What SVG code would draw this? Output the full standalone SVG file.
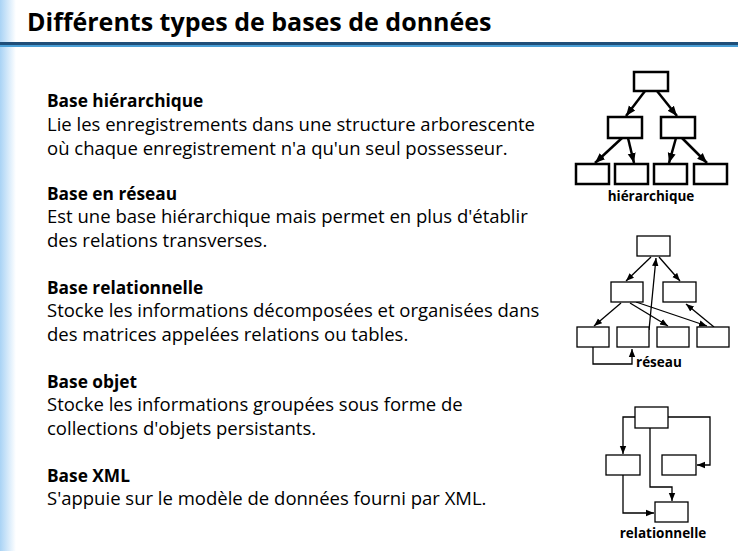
<svg xmlns="http://www.w3.org/2000/svg" width="738" height="551" viewBox="0 0 738 551">
<defs>
<linearGradient id="lg" x1="0" x2="1" y1="0" y2="0"><stop offset="0" stop-color="#a9d3f5"/><stop offset="1" stop-color="#ffffff"/></linearGradient>
<marker id="ah" viewBox="0 0 10 10" refX="10" refY="5" markerWidth="8" markerHeight="8" markerUnits="userSpaceOnUse" orient="auto-start-reverse"><path d="M0,1 L10,5 L0,9 z" fill="#000"/></marker>
<marker id="ah2" viewBox="0 0 10 10" refX="10" refY="5" markerWidth="10" markerHeight="10" markerUnits="userSpaceOnUse" orient="auto-start-reverse"><path d="M0,1 L10,5 L0,9 z" fill="#000"/></marker>
</defs>
<style>
text{font-family:"Open Sans","Liberation Sans",sans-serif;fill:#000}
.t{font-size:25px;font-weight:bold}
.h{font-size:17.3px;font-weight:bold}
.b{font-size:18.5px}
.l{font-size:13.5px;font-weight:bold}
.bx{fill:#fff;stroke:#000;stroke-width:2.5}
.bx2{fill:#fff;stroke:#000;stroke-width:1.3}
.c{fill:none;stroke:#000;stroke-width:2.5;marker-end:url(#ah2)}
.c2{fill:none;stroke:#000;stroke-width:1.3;marker-end:url(#ah)}
</style>
<rect width="738" height="551" fill="#fff"/>
<rect x="0" y="0" width="16" height="551" fill="url(#lg)"/>
<rect x="0" y="42" width="738" height="3" fill="#1f4e79"/>
<rect x="0" y="45" width="738" height="2" fill="#4a9fd6"/>
<g id="title"><text class="t" x="27" y="31">Différents types de bases de données</text></g>
<g id="texts">
<text class="h" x="47" y="107">Base hiérarchique</text>
<text class="b" x="47" y="131">Lie les enregistrements dans une structure arborescente</text>
<text class="b" x="47" y="155">où chaque enregistrement n'a qu'un seul possesseur.</text>
<text class="h" x="47" y="200">Base en réseau</text>
<text class="b" x="47" y="223">Est une base hiérarchique mais permet en plus d'établir</text>
<text class="b" x="47" y="247">des relations transverses.</text>
<text class="h" x="47" y="294">Base relationnelle</text>
<text class="b" x="47" y="317">Stocke les informations décomposées et organisées dans</text>
<text class="b" x="47" y="341">des matrices appelées relations ou tables.</text>
<text class="h" x="47" y="388">Base objet</text>
<text class="b" x="47" y="411">Stocke les informations groupées sous forme de</text>
<text class="b" x="47" y="435">collections d'objets persistants.</text>
<text class="h" x="47" y="482">Base XML</text>
<text class="b" x="47" y="505">S'appuie sur le modèle de données fourni par XML.</text>
</g>
<g id="connectors">
<line class="c" x1="645" y1="91" x2="626" y2="116"/>
<line class="c" x1="657" y1="91" x2="677" y2="116"/>
<line class="c" x1="622" y1="138" x2="595" y2="163"/>
<line class="c" x1="628" y1="138" x2="634" y2="163"/>
<line class="c" x1="676" y1="138" x2="669" y2="163"/>
<line class="c" x1="682" y1="138" x2="707" y2="163"/>
<line class="c2" x1="651" y1="257" x2="626" y2="281"/>
<line class="c2" x1="659" y1="257" x2="680" y2="281"/>
<line class="c2" x1="621" y1="303" x2="594" y2="326"/>
<line class="c2" x1="630" y1="303" x2="668" y2="326"/>
<line class="c2" x1="636" y1="302" x2="707" y2="326"/>
<line class="c2" x1="714" y1="327" x2="686" y2="304"/>
<line class="c2" x1="649" y1="330" x2="656" y2="258"/>
<polyline class="c2" points="593,347 593,364 632,364 632,349"/>
<polyline class="c2" points="635,417 623,417 623,454"/>
<polyline class="c2" points="668,417 710,417 710,465 697,465"/>
<polyline class="c2" points="650,428 650,487 672,487 672,501"/>
<polyline class="c2" points="623,475 623,513 654,513"/>
</g>
<g id="hier">
<rect class="bx" x="634" y="72" width="34" height="19"/>
<rect class="bx" x="608" y="117" width="34" height="21"/>
<rect class="bx" x="661" y="117" width="34" height="21"/>
<rect class="bx" x="576" y="164" width="33" height="20"/>
<rect class="bx" x="615" y="164" width="33" height="20"/>
<rect class="bx" x="654" y="164" width="33" height="20"/>
<rect class="bx" x="694" y="164" width="33" height="20"/>
<text class="l" x="651" y="201" text-anchor="middle">hiérarchique</text>
</g>
<g id="reseau">
<rect class="bx2" x="637" y="236" width="33" height="20"/>
<rect class="bx2" x="611" y="282" width="32" height="20"/>
<rect class="bx2" x="663" y="282" width="33" height="20"/>
<rect class="bx2" x="577" y="327" width="32" height="20"/>
<rect class="bx2" x="617" y="327" width="32" height="20"/>
<rect class="bx2" x="657" y="327" width="32" height="20"/>
<rect class="bx2" x="697" y="327" width="32" height="20"/>
<text class="l" x="636" y="367">réseau</text>
</g>
<g id="rel">
<rect class="bx2" x="635" y="407" width="33" height="21"/>
<rect class="bx2" x="606" y="455" width="34" height="20"/>
<rect class="bx2" x="662" y="455" width="34" height="20"/>
<rect class="bx2" x="655" y="502" width="33" height="20"/>
<text class="l" x="663" y="538" text-anchor="middle">relationnelle</text>
</g>
</svg>
